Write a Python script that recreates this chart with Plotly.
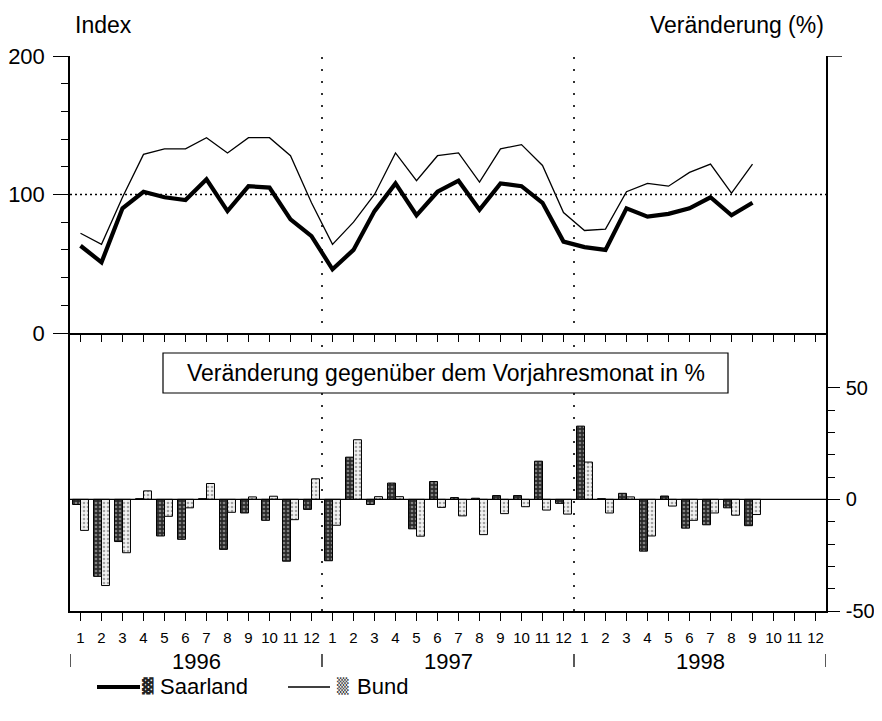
import plotly.graph_objects as go

# ---------------- data ----------------
years = ["1996", "1997", "1998"]
month_labels = [str(m) for m in range(1, 13)] * 3
pct_ticks = [-50, 0, 50]
pct_tick_labels = ["-50", "0", "50"]

# Index values (Jan 1996 .. Sep 1998)
saar_index = [63, 51, 90, 102, 98, 96, 111, 88, 106, 105, 82, 70,
              46, 60, 88, 108, 85, 102, 110, 89, 108, 106, 94, 66,
              62, 60, 90, 84, 86, 90, 98, 85, 94]
bund_index = [72, 64, 98, 129, 133, 133, 141, 130, 141, 141, 128, 94,
              64, 80, 100, 130, 110, 128, 130, 109, 133, 136, 121, 87,
              74, 75, 102, 108, 106, 116, 122, 101, 122]

# Change against same month of previous year, in %
saar_pct = [-2.3, -34.5, -18.9, 0.3, -16.4, -17.9, 0.3, -22.4, -6.1, -9.4, -27.7, -4.5,
            -27.5, 18.9, -2.3, 7.3, -13.2, 8.0, 0.8, 0.5, 1.7, 1.7, 17.1, -1.8,
            32.8, 0.3, 2.7, -23.2, 1.5, -12.9, -11.4, -3.8, -11.8]
bund_pct = [-13.9, -38.6, -23.9, 3.8, -7.6, -3.8, 7.1, -5.8, 1.1, 1.4, -9.1, 9.2,
            -11.6, 26.7, 1.2, 1.2, -16.5, -3.6, -7.4, -15.8, -6.4, -3.3, -4.8, -6.6,
            16.7, -6.1, 1.1, -16.4, -3.0, -9.4, -6.1, -7.1, -6.8]

n_months = len(month_labels)
xs = list(range(len(saar_index)))

FONT = "Liberation Sans, Arial, Helvetica, sans-serif"

fig = go.Figure()

# top panel lines
fig.add_trace(go.Scatter(x=xs, y=bund_index, mode="lines", name="Bund",
                         line=dict(color="black", width=1.3), xaxis="x", yaxis="y",
                         showlegend=False))
fig.add_trace(go.Scatter(x=xs, y=saar_index, mode="lines", name="Saarland",
                         line=dict(color="black", width=4.2), xaxis="x", yaxis="y",
                         showlegend=False))

# bottom panel bars
fig.add_trace(go.Bar(x=xs, y=saar_pct, name="Saarland", xaxis="x2", yaxis="y2",
                     marker=dict(color="#2a2a2a", line=dict(color="black", width=1),
                                 pattern=dict(shape=".", bgcolor="#2a2a2a", fgcolor="#d8d8d8",
                                              size=4, solidity=0.35, fillmode="overlay")),
                     showlegend=False))
fig.add_trace(go.Bar(x=xs, y=bund_pct, name="Bund", xaxis="x2", yaxis="y2",
                     marker=dict(color="#f2f2f2", line=dict(color="black", width=1),
                                 pattern=dict(shape=".", bgcolor="#f2f2f2", fgcolor="#555555",
                                              size=4, solidity=0.35, fillmode="overlay")),
                     showlegend=False))

split = 278 / 555

# the page places the figure 8 px in from the top-left corner (body margin);
# keep the figure inside the window so that no scrollbars appear
OFF = 8
fig.update_layout(
    width=882 - 2 * OFF, height=721 - 2 * OFF,
    margin=dict(l=70 - OFF, r=882 - OFF - 826, t=56 - OFF, b=721 - OFF - 611,
                autoexpand=False),
    paper_bgcolor="white", plot_bgcolor="white",
    font=dict(family=FONT, color="black", size=22),
    barmode="group", bargap=0.24, bargroupgap=0,
    xaxis=dict(domain=[0, 1], anchor="y", range=[-0.5, n_months - 0.5], automargin=False,
               tickmode="array", tickvals=list(range(n_months)), showticklabels=False,
               ticks="outside", ticklen=7, tickwidth=1.2, tickcolor="black",
               showline=True, linecolor="black", linewidth=1.5,
               showgrid=False, zeroline=False),
    xaxis2=dict(domain=[0, 1], anchor="y2", matches="x", range=[-0.5, n_months - 0.5],
                automargin=False,
                tickmode="array", tickvals=list(range(n_months)), ticktext=month_labels,
                tickfont=dict(size=15), ticks="outside", ticklen=8, tickwidth=1.2,
                tickcolor="black", ticklabelstandoff=4,
                showline=True, mirror=False, linecolor="black", linewidth=1.5,
                showgrid=False, zeroline=False),
    yaxis=dict(domain=[split, 1], anchor="x", range=[0, 200], automargin=False,
               tickmode="array", tickvals=[0, 100, 200], ticks="outside", ticklen=15,
               tickwidth=1.2, tickcolor="black", tickfont=dict(size=22),
               ticklabelstandoff=4,
               minor=dict(tickmode="array", tickvals=[20, 40, 60, 80, 120, 140, 160, 180],
                          ticks="outside", ticklen=7, tickwidth=1.2, tickcolor="black"),
               showline=True, mirror=True, linecolor="black", linewidth=1.5,
               showgrid=False, zeroline=False),
    yaxis2=dict(domain=[0, split], anchor="x2", side="right", range=[-50, 74.5],
                automargin=False,
                tickmode="array", tickvals=pct_ticks, ticktext=pct_tick_labels,
                ticks="outside", ticklen=12,
                tickwidth=1.2, tickcolor="black", tickfont=dict(size=20),
                ticklabelstandoff=2,
                minor=dict(tickmode="array", tickvals=[-40, -30, -20, -10, 10, 20, 30, 40],
                           ticks="outside", ticklen=7, tickwidth=1.2, tickcolor="black"),
                showline=True, mirror=True, linecolor="black", linewidth=1.5,
                showgrid=False, zeroline=False),
)

def px_y(p):
    return (611 - p) / 555

def px_x(p):
    return (p - 70) / 756

shapes = []
# horizontal dotted reference at 100
shapes.append(dict(type="line", xref="x domain", yref="y", x0=0, x1=1, y0=100, y1=100,
                   line=dict(color="black", width=1.5, dash="2px,3px"), layer="above"))
# zero line bottom panel
shapes.append(dict(type="line", xref="x2 domain", yref="y2", x0=0, x1=1, y0=0, y1=0,
                   line=dict(color="black", width=1.2), layer="above"))
# vertical dotted year separators
for xv in [11.5, 23.5]:
    shapes.append(dict(type="line", xref="x", yref="paper", x0=xv, x1=xv, y0=0, y1=1,
                       line=dict(color="black", width=1.6, dash="2px,10px"), layer="above"))
# small tick at top right
shapes.append(dict(type="line", xref="paper", yref="y", x0=1, x1=1 + 16 / 756, y0=200, y1=200,
                   line=dict(color="black", width=1.5)))
# box for caption (white fill covers dotted line)
shapes.append(dict(type="rect", xref="paper", yref="paper",
                   x0=px_x(163), x1=px_x(728), y0=px_y(393), y1=px_y(353),
                   line=dict(color="black", width=1.2), fillcolor="white", layer="above"))
# year separators below axis
for xv in [-0.5, 11.5, 23.5, 35.5]:
    shapes.append(dict(type="line", xref="x", yref="paper", x0=xv, x1=xv,
                       y0=px_y(654), y1=px_y(667), line=dict(color="black", width=1.3)))
# legend line samples
shapes.append(dict(type="line", xref="paper", yref="paper", x0=px_x(97), x1=px_x(140),
                   y0=px_y(687), y1=px_y(687), line=dict(color="black", width=4.2)))
shapes.append(dict(type="line", xref="paper", yref="paper", x0=px_x(288), x1=px_x(330),
                   y0=px_y(687), y1=px_y(687), line=dict(color="black", width=1.3)))
fig.update_layout(shapes=shapes)

ann = []
ann.append(dict(text="Index", xref="paper", yref="paper", x=px_x(73), y=px_y(25),
                xanchor="left", yanchor="middle", showarrow=False, font=dict(size=23)))
ann.append(dict(text="Veränderung (%)", xref="paper", yref="paper", x=1.0, y=px_y(25),
                xanchor="right", yanchor="middle", showarrow=False, font=dict(size=23)))
ann.append(dict(text="Veränderung gegenüber dem Vorjahresmonat in %", xref="paper",
                yref="paper", x=px_x(446), y=px_y(373), xanchor="center", yanchor="middle",
                showarrow=False, font=dict(size=23)))
for i, yr in enumerate(years):
    ann.append(dict(text=yr, xref="x", yref="paper", x=12 * i + 5.5, y=px_y(661),
                    xanchor="center", yanchor="middle", showarrow=False, font=dict(size=22)))
# legend texts
ann.append(dict(text="▓", xref="paper", yref="paper", x=px_x(148), y=px_y(686),
                xanchor="center", yanchor="middle", showarrow=False,
                font=dict(size=15, family="DejaVu Sans", color="#222")))
ann.append(dict(text="Saarland", xref="paper", yref="paper", x=px_x(158), y=px_y(686),
                xanchor="left", yanchor="middle", showarrow=False, font=dict(size=22)))
ann.append(dict(text="▒", xref="paper", yref="paper", x=px_x(343), y=px_y(686),
                xanchor="center", yanchor="middle", showarrow=False,
                font=dict(size=15, family="DejaVu Sans", color="#444")))
ann.append(dict(text="Bund", xref="paper", yref="paper", x=px_x(355), y=px_y(686),
                xanchor="left", yanchor="middle", showarrow=False, font=dict(size=22)))
fig.update_layout(annotations=ann)

fig.write_html("out.html")
